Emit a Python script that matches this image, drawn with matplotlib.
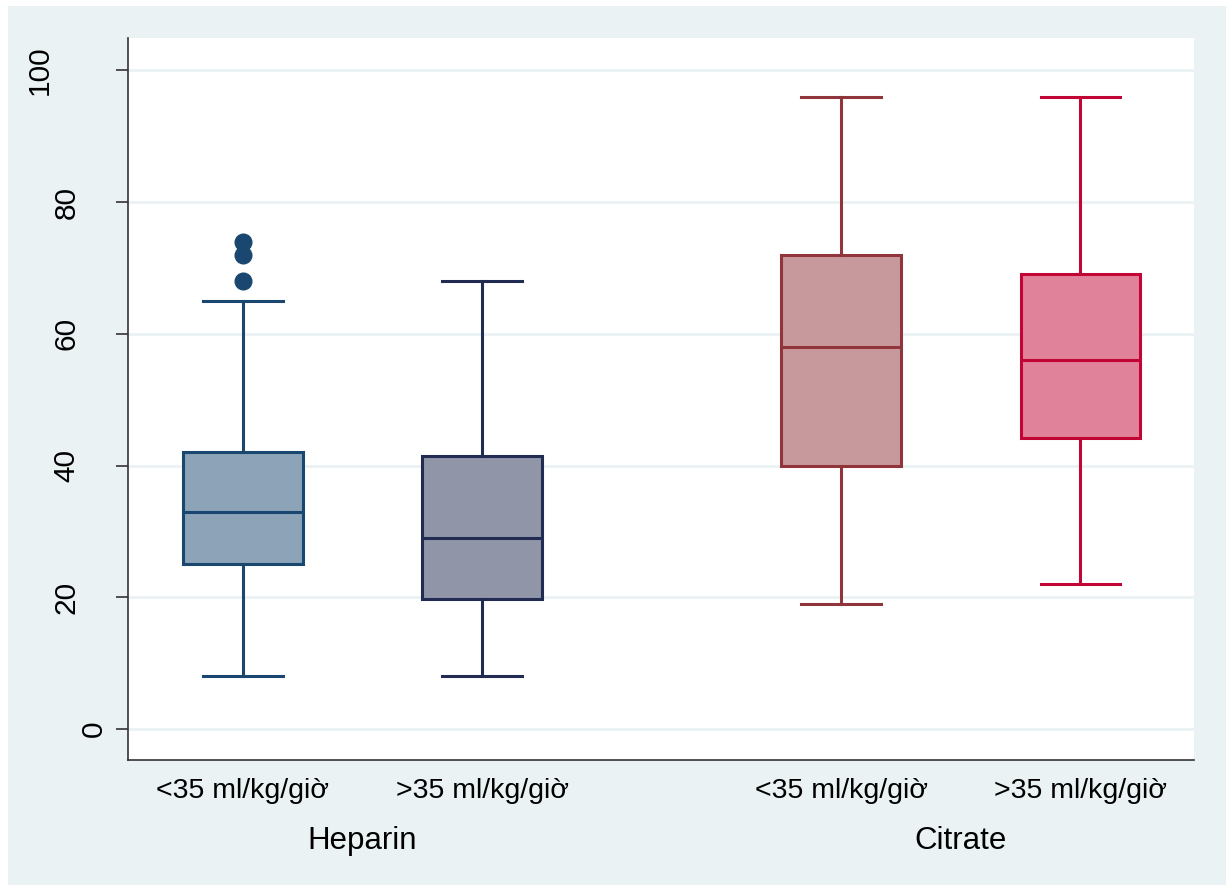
import matplotlib.pyplot as plt
from matplotlib.patches import Rectangle

plt.rcParams['font.family'] = ['Liberation Sans', 'DejaVu Sans']

# box summaries read per group (Heparin / Citrate, dose below / above 35)
groups = ["Heparin", "Citrate"]
doses = ["<35 ml/kg/giờ", ">35 ml/kg/giờ", "<35 ml/kg/giờ", ">35 ml/kg/giờ"]
medians = [33, 29, 58, 56]
q1s = [25, 19.7, 40, 44.2]
q3s = [42, 41.5, 72, 69]
lows = [8, 8, 19, 22]
highs = [65, 68, 96, 96]
outliers = [[68, 72, 74], [], [], []]
yticks = [0, 20, 40, 60, 80, 100]

edge_colors = ["#1a476f", "#222c52", "#90353b", "#c10534"]
fill_colors = ["#8ca3b8", "#9095a8", "#c8999c", "#e08299"]
bg = "#eaf2f3"

positions = [1, 2, 3.5, 4.5]

fig = plt.figure(figsize=(12.29, 8.88), dpi=100)
fig.patch.set_facecolor("white")
fig.patches.append(Rectangle((8 / 1229, 3 / 888), 1218 / 1229, 879 / 888,
                             transform=fig.transFigure, facecolor=bg,
                             edgecolor="none", zorder=-10))

ax = fig.add_axes([128 / 1229, 1 - 760 / 888, (1194 - 128) / 1229, (760 - 38) / 888])
ax.set_zorder(1)
ax.set_facecolor("white")

stats = []
for i in range(4):
    stats.append(dict(med=medians[i], q1=q1s[i], q3=q3s[i],
                      whislo=lows[i], whishi=highs[i], fliers=outliers[i]))

bp = ax.bxp(stats, positions=positions, widths=0.5, capwidths=0.333,
            patch_artist=True, showfliers=True, zorder=3)

for i in range(4):
    c = edge_colors[i]
    bp['boxes'][i].set(facecolor=fill_colors[i], edgecolor=c, linewidth=2.2)
    bp['medians'][i].set(color=c, linewidth=2.2)
    for j in (2 * i, 2 * i + 1):
        bp['whiskers'][j].set(color=c, linewidth=2.2)
        bp['caps'][j].set(color=c, linewidth=2.2)
    bp['fliers'][i].set(marker='o', markerfacecolor=c, markeredgecolor=c,
                        markersize=12)

ax.set_xlim(0.52, 4.975)
ax.set_ylim(-4.7, 104.9)

ax.set_yticks(yticks)
ax.yaxis.grid(True, color=bg, linewidth=2)
ax.set_axisbelow(True)
ax.tick_params(axis='y', direction='out', length=9, width=1.2, color="#333333",
               labelleft=False)

# rotated y labels, shorter numbers sit closer to the axis
for v in yticks:
    s = str(v)
    dx = 34.5 + 26.75 * (len(s) - 1)
    ax.annotate(s, xy=(0, v), xycoords=('axes fraction', 'data'),
                xytext=(-dx, 0), textcoords='offset pixels',
                rotation=90, ha='center', va='center', fontsize=21.5)

ax.set_xticks(positions, doses)
ax.tick_params(axis='x', length=0, pad=13, labelsize=20.5)

for side in ('top', 'right'):
    ax.spines[side].set_visible(False)
for side in ('left', 'bottom'):
    ax.spines[side].set_color("#333333")
    ax.spines[side].set_linewidth(1.2)

# group names under each pair of boxes
for k, g in enumerate(groups):
    xc = (positions[2 * k] + positions[2 * k + 1]) / 2
    ax.annotate(g, xy=(xc, 0), xycoords=('data', 'axes fraction'),
                xytext=(0, -58), textcoords='offset points',
                ha='center', va='center', fontsize=22.5)

fig.savefig("out.png", dpi=100)
